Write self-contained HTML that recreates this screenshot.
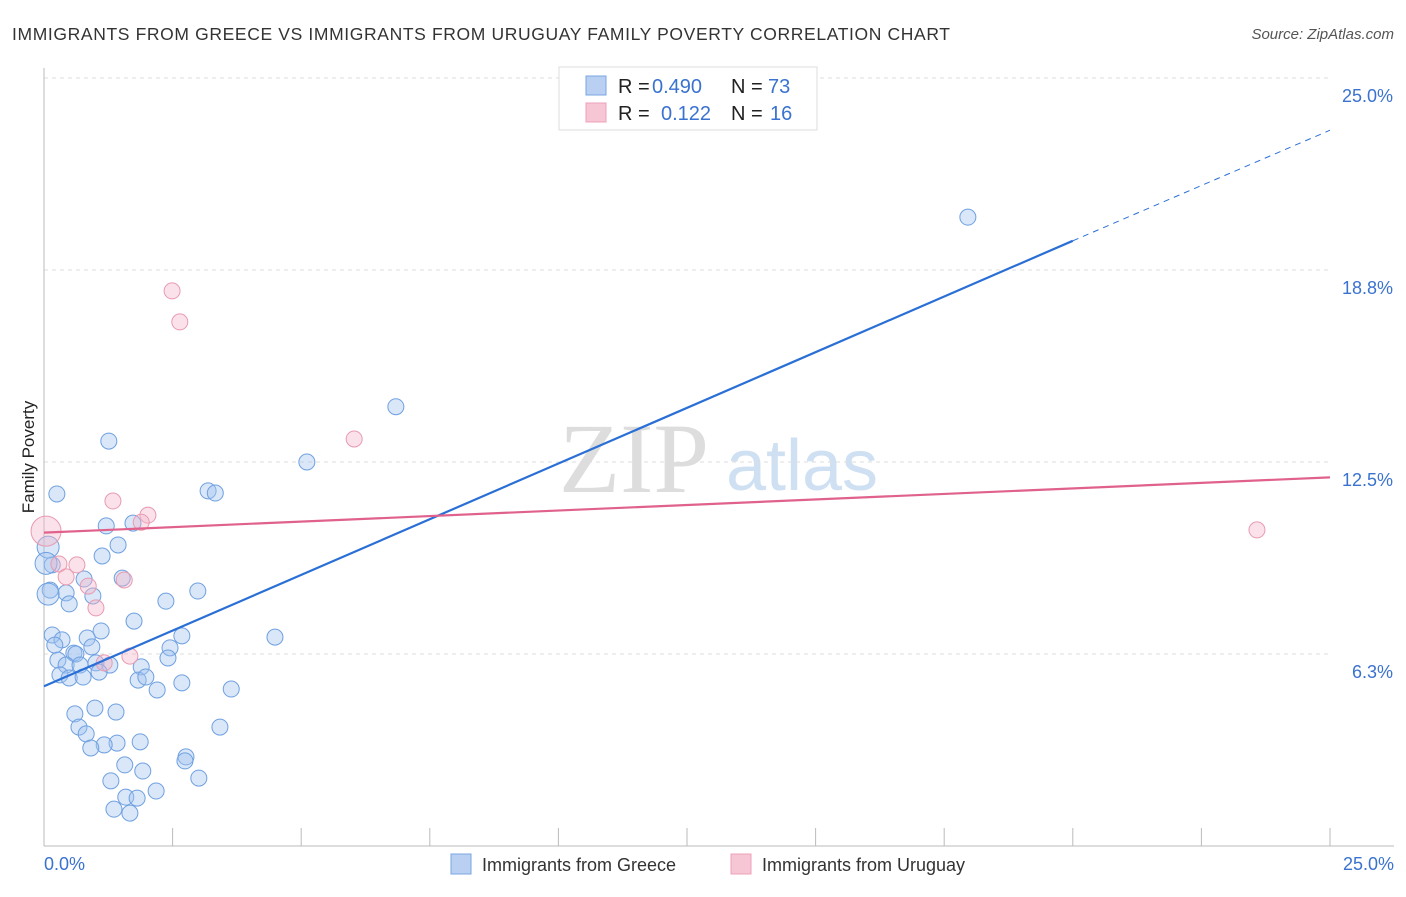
<!DOCTYPE html>
<html><head><meta charset="utf-8"><style>
body{margin:0;background:#fff}
</style></head><body>
<svg id="c" width="1406" height="892" xmlns="http://www.w3.org/2000/svg" font-family="Liberation Sans, sans-serif">
<text x="12" y="40" font-size="17.5" fill="#333" textLength="938">IMMIGRANTS FROM GREECE VS IMMIGRANTS FROM URUGUAY FAMILY POVERTY CORRELATION CHART</text>
<text x="1394" y="39" font-size="15" fill="#555" font-style="italic" text-anchor="end">Source: ZipAtlas.com</text>
<text x="634" y="492" font-size="100" fill="#ddd" style="font-family:'Liberation Serif',serif" text-anchor="middle">ZIP</text>
<text x="802" y="490" font-size="72" fill="#cfe0f3" text-anchor="middle">atlas</text>
<text transform="translate(34,457) rotate(-90)" font-size="17" fill="#222" text-anchor="middle">Family Poverty</text>
<g id="grid"></g><g id="axes"></g><g id="pts"></g><g id="lines"></g>
<g>
<rect x="559" y="67" width="258" height="63" fill="#fff" stroke="#ddd"/>
<rect x="586" y="76" width="20" height="19" fill="#b9d0f2" stroke="#7aa5e3"/>
<rect x="586" y="103" width="20" height="19" fill="#f7c6d5" stroke="#eca0b8"/>
<text x="618" y="93" font-size="20" fill="#222">R =</text>
<text x="652" y="93" font-size="20" fill="#3a72d0">0.490</text>
<text x="731" y="93" font-size="20" fill="#222">N =</text>
<text x="768" y="93" font-size="20" fill="#3a72d0">73</text>
<text x="618" y="120" font-size="20" fill="#222">R =</text>
<text x="661" y="120" font-size="20" fill="#3a72d0">0.122</text>
<text x="731" y="120" font-size="20" fill="#222">N =</text>
<text x="770" y="120" font-size="20" fill="#3a72d0">16</text>
</g>
<g>
<rect x="451" y="854" width="20" height="20" fill="#b9d0f2" stroke="#7aa5e3"/>
<text x="482" y="871" font-size="18" fill="#333">Immigrants from Greece</text>
<rect x="731" y="854" width="20" height="20" fill="#f7c6d5" stroke="#eca0b8"/>
<text x="762" y="871" font-size="18" fill="#333">Immigrants from Uruguay</text>
</g>
</svg>
<script>
const yTicks=[6.25,12.5,18.75,25];
const yTickLabels=["6.3%","12.5%","18.8%","25.0%"];
const greeceX=[17.96,6.84,5.11,1.26,0.25,3.19,3.33,1.21,1.73,1.44,1.13,0.16,1.52,0.78,0.12,0.43,0.95,0.49,2.99,2.37,1.75,0.16,0.35,0.21,1.11,0.84,0.93,2.68,4.49,2.45,0.58,0.62,0.27,0.43,0.70,1.01,1.28,2.41,1.89,0.31,0.49,0.76,1.07,1.83,1.98,2.68,2.20,3.64,0.60,0.99,1.40,0.68,0.82,3.42,1.42,1.17,0.91,1.87,2.76,2.74,1.57,1.92,3.01,1.30,1.59,1.81,2.18,1.36,1.67,0.08,0.08,0.04];
const greeceY=[20.47,14.30,12.50,13.18,11.46,11.56,11.49,10.42,10.51,9.80,9.44,9.15,8.72,8.69,8.33,8.24,8.14,7.88,8.30,7.97,7.32,6.87,6.71,6.54,7.00,6.77,6.48,6.84,6.80,6.45,6.28,6.25,6.05,5.89,5.89,5.96,5.89,6.12,5.83,5.57,5.47,5.50,5.66,5.40,5.50,5.31,5.08,5.11,4.30,4.49,4.36,3.87,3.65,3.87,3.35,3.29,3.19,3.39,2.90,2.77,2.64,2.44,2.21,2.12,1.59,1.56,1.79,1.20,1.07,9.73,8.20,9.20];
const uruguayX=[2.49,2.64,6.03,23.58,1.34,2.02,1.89,0.04,0.29,0.64,0.43,0.86,1.56,1.01,1.17,1.67];
const uruguayY=[18.07,17.06,13.25,10.29,11.23,10.77,10.54,10.25,9.18,9.15,8.76,8.46,8.66,7.75,5.96,6.18];
const greeceLine=[0,5.20,20,19.70,25,23.30];
const uruguayLine=[0,10.2,25,12.0];
const X=v=>44+v/25*1286, Y=v=>846-v/25*768;
const NS="http://www.w3.org/2000/svg";
function mk(tag,attrs,parent){const e=document.createElementNS(NS,tag);for(const k in attrs)e.setAttribute(k,attrs[k]);document.getElementById(parent).appendChild(e);return e;}
yTicks.forEach((t,i)=>{
 const g=mk('line',{x1:44,x2:1330,y1:Y(t),y2:Y(t),stroke:'#ddd','stroke-dasharray':'4,4'},'grid');
 
 
 const l=mk('text',{x:1393,y:Y(t)+24,'font-size':18,fill:'#3a72d0','text-anchor':'end'},'grid');
 l.textContent=yTickLabels[i];
 
 
});
mk('line',{x1:44,x2:1394,y1:846,y2:846,stroke:'#bbb'},'axes');
mk('line',{x1:44,x2:44,y1:68,y2:846,stroke:'#bbb'},'axes');
for(let i=0;i<=10;i++){const t=mk('line',{x1:X(i*2.5),x2:X(i*2.5),y1:828,y2:846,stroke:'#bbb'},'axes');
 
 }
const x0=mk('text',{x:44,y:870,'font-size':18,fill:'#3a72d0'},'axes');x0.textContent='0.0%';


const x1=mk('text',{x:1394,y:870,'font-size':18,fill:'#3a72d0','text-anchor':'end'},'axes');x1.textContent='25.0%';


greeceX.forEach((v,i)=>{const big=i>=69;const c=mk('circle',{cx:X(v),cy:Y(greeceY[i]),r:big?11:8,fill:'rgba(160,195,240,0.4)',stroke:'#6fa0e0','stroke-width':1},'pts');
 
 });
uruguayX.forEach((v,i)=>{const c=mk('circle',{cx:X(v),cy:Y(uruguayY[i]),r:i==7?15:8,fill:'rgba(245,180,200,0.4)',stroke:'#e89ab0','stroke-width':1},'pts');
 
 });
const b1=mk('line',{x1:X(greeceLine[0]),y1:Y(greeceLine[1]),x2:X(greeceLine[2]),y2:Y(greeceLine[3]),stroke:'#2a6fd6','stroke-width':2.2},'lines');


const b2=mk('line',{x1:X(greeceLine[2]),y1:Y(greeceLine[3]),x2:X(greeceLine[4]),y2:Y(greeceLine[5]),stroke:'#2a6fd6','stroke-width':1,'stroke-dasharray':'6,5'},'lines');


const p1=mk('line',{x1:X(uruguayLine[0]),y1:Y(uruguayLine[1]),x2:X(uruguayLine[2]),y2:Y(uruguayLine[3]),stroke:'#e0628c','stroke-width':2.2},'lines');


</script>
</body></html>
